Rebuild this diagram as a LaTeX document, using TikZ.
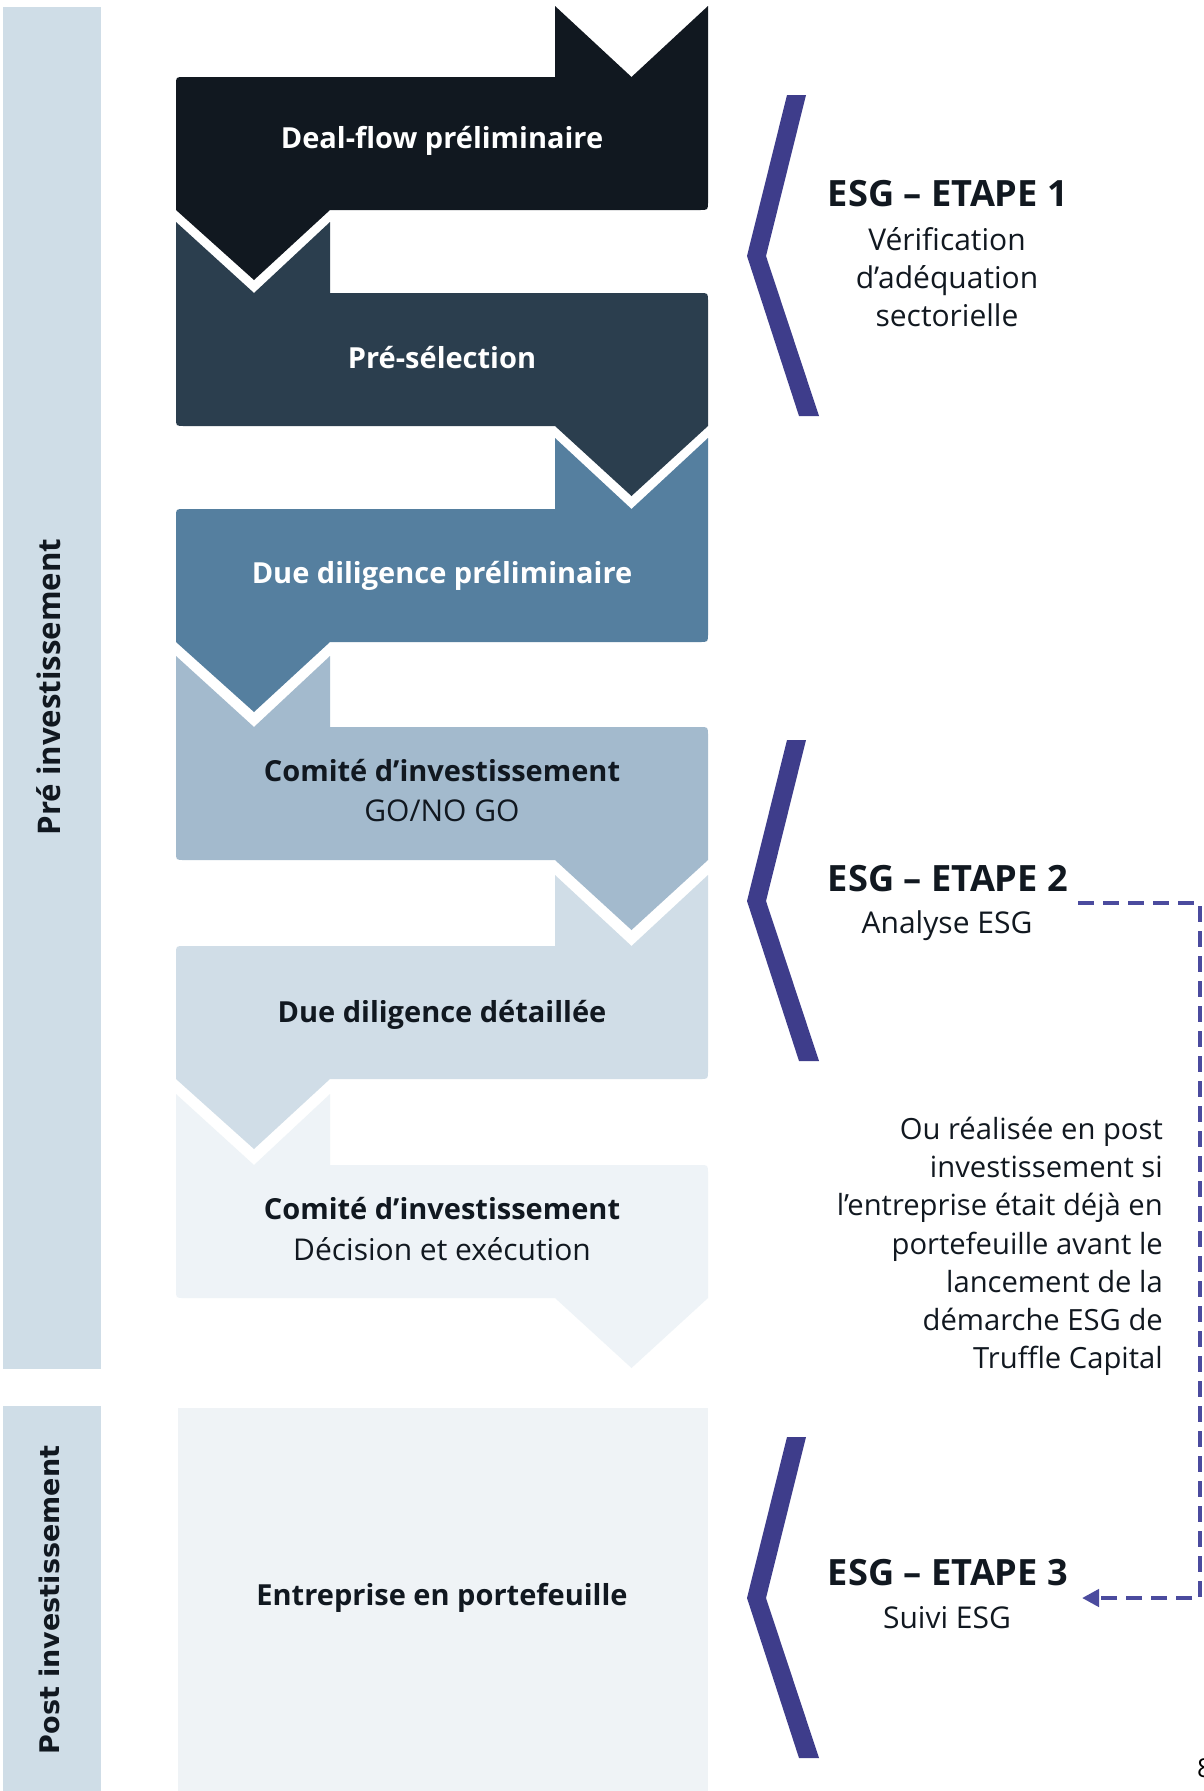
\documentclass[tikz,border=0pt]{standalone}
\usepackage{fontspec}
\setmainfont{Open Sans}
\newfontfamily\dejafont{DejaVu Sans}
\usetikzlibrary{arrows.meta}
\definecolor{c1}{HTML}{111820}
\definecolor{c2}{HTML}{2B3E4E}
\definecolor{c3}{HTML}{557F9F}
\definecolor{c4}{HTML}{A3BACD}
\definecolor{c5}{HTML}{D0DDE7}
\definecolor{c6}{HTML}{EEF3F7}
\definecolor{c7}{HTML}{EFF3F6}
\definecolor{barc}{HTML}{CFDDE7}
\definecolor{brk}{HTML}{3E3D8B}
\definecolor{dsh}{HTML}{4B4B9E}
\definecolor{txt}{HTML}{111820}
% stage with tab at top right and point at bottom left
\newcommand\stageR[2]{\fill[#2] (555,{#1-71}) -- (631.5,#1) -- (708,{#1-71}) -- (708,{#1+125}) .. controls (708,{#1+133}) .. (700,{#1+133}) -- (330,{#1+133}) -- (254,{#1+203}) -- (176,{#1+133}) -- (176,{#1+8}) .. controls (176,#1) .. (184,#1) -- (555,#1) -- cycle;}
% stage with tab at top left and point at bottom right
\newcommand\stageL[2]{\fill[#2] (176,{#1-71}) -- (254,#1) -- (330,{#1-71}) -- (330,#1) -- (700,#1) .. controls (708,#1) .. (708,{#1+8}) -- (708,{#1+133}) -- (631.5,{#1+203}) -- (555,{#1+133}) -- (184,{#1+133}) .. controls (176,{#1+133}) .. (176,{#1+125}) -- cycle;}
\newcommand\bracketat[1]{\fill[brk] (787,#1) -- (806,#1) -- (766,{#1+161}) -- (819,{#1+321}) -- (799,{#1+321}) -- (747,{#1+161}) -- cycle;}
\begin{document}
\begin{tikzpicture}[x=1pt,y=-1pt,
  boxb/.style={font=\fontsize{29}{36}\selectfont\bfseries, inner sep=0pt, anchor=base},
  boxr/.style={font=\fontsize{30}{36}\selectfont, inner sep=0pt, anchor=base},
  esgh/.style={font=\fontsize{36.2}{40}\selectfont\bfseries, text=txt, inner sep=0pt, anchor=base},
  esgs/.style={font=\fontsize{30}{36}\selectfont, text=txt, inner sep=0pt, anchor=base},
  notetxt/.style={font=\fontsize{29.2}{36}\selectfont, text=txt, inner sep=0pt, anchor=base east},
  sidelabel/.style={font=\fontsize{31.2}{36}\selectfont\bfseries, text=txt, inner sep=0pt, rotate=90},
  dashlink/.style={draw=dsh, line width=4.5pt, dash pattern=on 16pt off 9pt, -{Triangle[length=17pt,width=17pt]}}
]
\fill[white] (0,0) rectangle (1203,1791);
\useasboundingbox (0,0) rectangle (1203,1791);
% side bars
\fill[barc] (3,7) rectangle (101,1369);
\fill[barc] (3,1406) rectangle (101,1791);
\node[sidelabel] (pre) at (48.5,687) {Pré investissement};
\node[sidelabel, font=\fontsize{27}{32}\selectfont\dejafont\bfseries] (post) at (49,1600) {Post investissement};
% stages
\stageR{77}{c1}
\stageL{293}{c2}
\stageR{509}{c3}
\stageL{727}{c4}
\stageR{946}{c5}
\stageL{1165}{c6}
\fill[c7] (178,1408) rectangle (708,1791);
\node[boxb, text=white] (s1) at (442,148) {Deal-flow préliminaire};
\node[boxb, text=white] (s2) at (442,368) {Pré-sélection};
\node[boxb, text=white] (s3) at (442,583) {Due diligence préliminaire};
\node[boxb, text=txt] (s4) at (442,781) {Comité d’investissement};
\node[boxr, text=txt] (s4b) at (442,821) {GO/NO GO};
\node[boxb, text=txt] (s5) at (442,1022) {Due diligence détaillée};
\node[boxb, text=txt] (s6) at (442,1219) {Comité d’investissement};
\node[boxr, text=txt] (s6b) at (442,1260) {Décision et exécution};
\node[boxb, text=txt] (s7) at (442,1605) {Entreprise en portefeuille};
% brackets
\bracketat{95}
\bracketat{740}
\bracketat{1437}
% ESG steps
\node[esgh] (e1) at (948,206) {ESG – ETAPE 1};
\node[esgs] (e1a) at (947,250) {Vérification};
\node[esgs] (e1b) at (947,288) {d’adéquation};
\node[esgs] (e1c) at (947,326) {sectorielle};
\node[esgh] (e2) at (948,891) {ESG – ETAPE 2};
\node[esgs] (e2a) at (947,933) {Analyse ESG};
\node[esgh] (e3) at (948,1585) {ESG – ETAPE 3};
\node[esgs] (e3a) at (947,1628) {Suivi ESG};
% note
\node[notetxt] (n1) at (1163,1139) {Ou réalisée en post};
\node[notetxt] (n2) at (1163,1177) {investissement si};
\node[notetxt] (n3) at (1163,1215) {l’entreprise était déjà en};
\node[notetxt] (n4) at (1163,1254) {portefeuille avant le};
\node[notetxt] (n5) at (1163,1292) {lancement de la};
\node[notetxt] (n6) at (1163,1330) {démarche ESG de};
\node[notetxt] (n7) at (1163,1368) {Truffle Capital};
% dashed link
\coordinate (d0) at (1078,903);
\coordinate (d1) at (1200,903);
\coordinate (d2) at (1200,1598);
\coordinate (d3) at (1082,1598);
\draw[dashlink] (d0) -- (d1) -- (d2) -- (d3);
% page number, cut by the right edge as in the reference
\node[font=\fontsize{26}{30}\selectfont, text=black, inner sep=0pt, anchor=base west] (pg) at (1197,1777) {8};
\end{tikzpicture}
\end{document}
